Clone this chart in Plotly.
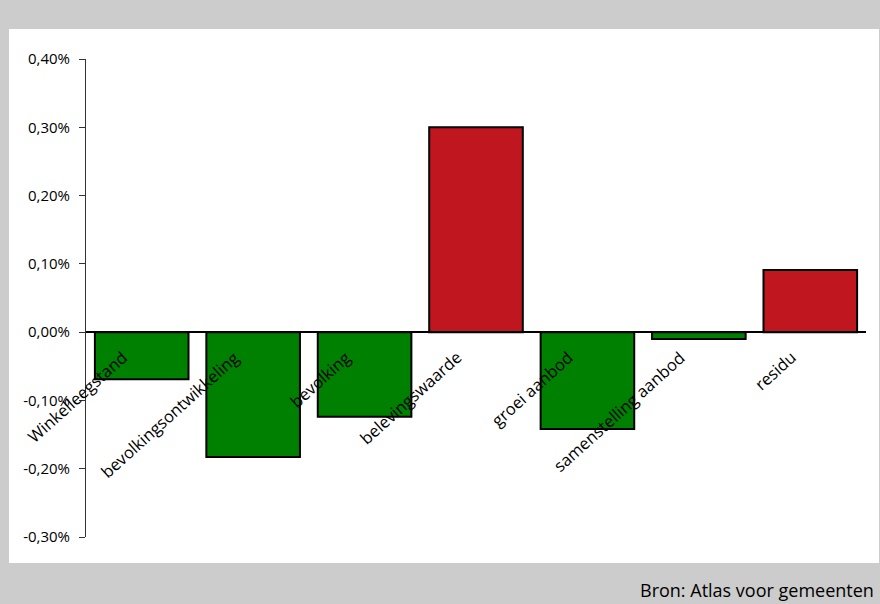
import plotly.graph_objects as go

# Bijdrage per factor aan de ontwikkeling (in procenten)
categories = [
    "Winkelleegstand",
    "bevolkingsontwikkeling",
    "bevolking",
    "belevingswaarde",
    "groei aanbod",
    "samenstelling aanbod",
    "residu",
]
values = [-0.069, -0.183, -0.124, 0.300, -0.142, -0.010, 0.091]

y_tickvals = [-0.30, -0.20, -0.10, 0.00, 0.10, 0.20, 0.30, 0.40]
y_ticktext = ["-0,30%", "-0,20%", "-0,10%", "0,00%", "0,10%", "0,20%", "0,30%", "0,40%"]

GREEN = "#008000"
RED = "#c0161f"
colors = [RED if v > 0 else GREEN for v in values]

FONT = "Open Sans"
y_min, y_max = -0.30, 0.40

fig = go.Figure(
    go.Bar(
        x=categories,
        y=values,
        marker=dict(color=colors, line=dict(color="black", width=2)),
        hoverinfo="skip",
    )
)

# Category labels, slanted and hanging just below the zero line
label_annotations = [
    dict(
        text=cat,
        x=cat,
        y=0,
        xref="x",
        yref="y",
        xanchor="right",
        yanchor="top",
        xshift=-7,
        yshift=-11,
        textangle=-42,
        showarrow=False,
        font=dict(family=FONT, size=16.5, color="black"),
    )
    for cat in categories
]

fig.update_layout(
    width=880,
    height=604,
    margin=dict(l=86, r=14, t=59, b=67),
    paper_bgcolor="#cccccc",
    plot_bgcolor="white",
    bargap=0.16,
    showlegend=False,
    font=dict(family=FONT, size=15, color="black"),
    xaxis=dict(
        range=[-0.5, 6.5],
        anchor="free",
        position=(0 - y_min) / (y_max - y_min),
        showline=True,
        linecolor="black",
        linewidth=2,
        showgrid=False,
        ticks="",
        showticklabels=False,
    ),
    yaxis=dict(
        range=[y_min, y_max],
        tickvals=y_tickvals,
        ticktext=y_ticktext,
        showgrid=False,
        zeroline=False,
        showline=True,
        linecolor="#333333",
        linewidth=1,
        ticks="outside",
        ticklen=6,
        tickcolor="#333333",
        ticklabelstandoff=6,
        tickfont=dict(family=FONT, size=15, color="black"),
    ),
    shapes=[
        dict(
            type="rect",
            xref="paper",
            yref="paper",
            x0=(9 - 86) / 780,
            x1=(879 - 86) / 780,
            y0=(537 - 563) / 478,
            y1=(537 - 29) / 478,
            fillcolor="white",
            line=dict(width=0),
            layer="below",
        )
    ],
    annotations=label_annotations
    + [
        dict(
            text="Bron: Atlas voor gemeenten",
            xref="paper",
            yref="paper",
            x=(876 - 86) / 780,
            y=(537 - 604) / 478,
            xanchor="right",
            yanchor="bottom",
            showarrow=False,
            font=dict(family=FONT, size=18, color="black"),
        )
    ],
)

fig.write_html("out.html")
